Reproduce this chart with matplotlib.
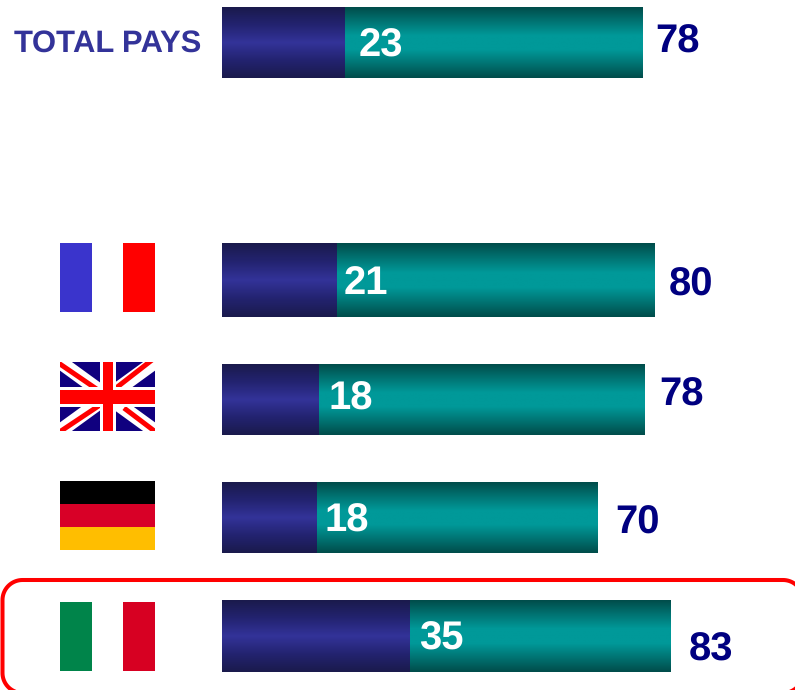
import numpy as np
import matplotlib
matplotlib.use('Agg')
import matplotlib.pyplot as plt
from matplotlib.colors import LinearSegmentedColormap
from matplotlib.patches import Rectangle

plt.rcParams['font.family'] = ['Liberation Sans', 'DejaVu Sans']
plt.rcParams['text.hinting'] = 'no_hinting'
plt.rcParams['text.hinting_factor'] = 1

# labels printed on the chart
low_labels = ['23', '21', '18', '18', '35']
total_labels = ['78', '80', '78', '70', '83']

# bar lengths
low_values = [22.75, 21.25, 17.9, 17.55, 34.8]
total_values = [77.9, 80.1, 78.2, 69.5, 83.1]

# vertical bar extent, pixels from the top
bar_tops = [7, 243, 364, 482, 600]
bar_bottoms = [78, 317, 435, 553, 672]

# label positions, pixels (centres)
low_label_x = [381, 366, 351, 347, 441]
low_label_y = [46, 284, 399, 521, 639]
total_label_x = [678, 691, 682, 638, 711]
total_label_y = [42, 285, 395, 523, 650]

X0 = 222
SCALE = 5.4

NAVY = LinearSegmentedColormap.from_list('navy', ['#1A1A4C', '#232370', '#333399', '#232370', '#1A1A4C'])
TEAL = LinearSegmentedColormap.from_list('teal', ['#004C4A', '#007372', '#009999', '#009999', '#007372', '#004C4A'])
gradient = np.linspace(0, 1, 256).reshape(-1, 1)

fig = plt.figure(figsize=(7.95, 6.9), dpi=100)

# bars, x axis in value units
ax = fig.add_axes([0, 0, 1, 1])
ax.axis('off')
for low, total, top, bottom in zip(low_values, total_values, bar_tops, bar_bottoms):
    ax.imshow(gradient, cmap=TEAL, aspect='auto', extent=(low, total, bottom, top), zorder=1)
    ax.imshow(gradient, cmap=NAVY, aspect='auto', extent=(0, low, bottom, top), zorder=2)
ax.set_xlim(-X0 / SCALE, (795 - X0) / SCALE)
ax.set_ylim(690, 0)

# everything else, in pixels
over = fig.add_axes([0, 0, 1, 1])
over.axis('off')
over.patch.set_alpha(0)
over.set_xlim(0, 795)
over.set_ylim(690, 0)

over.text(108, 44, 'TOTAL PAYS', color='#333399', fontsize=22.3, fontweight='bold', ha='center', va='center')

for s, x, y in zip(low_labels, low_label_x, low_label_y):
    over.text(x, y, s, color='white', fontsize=28.5, fontweight='bold', ha='center', va='center')
for s, x, y in zip(total_labels, total_label_x, total_label_y):
    over.text(x, y, s, color='#000080', fontsize=28.5, fontweight='bold', ha='center', va='center')


def vertical_flag(top, left_col, mid_col, right_col):
    over.add_patch(Rectangle((60, top), 32, 69, fc=left_col, ec='none'))
    over.add_patch(Rectangle((92, top), 31, 69, fc=mid_col, ec='none'))
    over.add_patch(Rectangle((123, top), 32, 69, fc=right_col, ec='none'))


# France, Italy
vertical_flag(243, '#3A34CC', 'white', '#FF0000')
vertical_flag(602, '#00844A', 'white', '#D70022')

# Germany
for i, c in enumerate(['#000000', '#D80027', '#FFBE00']):
    over.add_patch(Rectangle((60, 481 + i * 23), 95, 23, fc=c, ec='none'))

# UK
clip = Rectangle((60, 362), 95, 69, fc='#10007F', ec='none')
over.add_patch(clip)
for xs, ys, w, c in [
    ((60, 155), (362, 431), 14, 'white'),
    ((60, 155), (431, 362), 14, 'white'),
    ((57, 98), (362, 390), 5, '#FF0000'),
    ((152, 116), (360, 388), 5, '#FF0000'),
    ((58, 100), (433, 405), 5, '#FF0000'),
    ((157, 124), (433, 408), 5, '#FF0000'),
    ((107.5, 107.5), (362, 431), 16, 'white'),
    ((60, 155), (397, 397), 20, 'white'),
    ((107.5, 107.5), (362, 431), 10, '#FF0000'),
    ((60, 155), (397, 397), 14, '#FF0000'),
]:
    line, = over.plot(xs, ys, color=c, lw=w * 0.72, solid_capstyle='butt')
    line.set_clip_path(clip)

# red frame around Italy, runs off the right and bottom of the picture
r = 20
left, right, top, bottom = 2.5, 803, 580, 693
t = np.linspace(0, np.pi / 2, 20)
frame_x = np.concatenate([left + r - r * np.sin(t), left + r - r * np.cos(t), right - r + r * np.sin(t), right - r + r * np.cos(t)])
frame_y = np.concatenate([bottom - r + r * np.cos(t), top + r - r * np.sin(t), top + r - r * np.cos(t), bottom - r + r * np.sin(t)])
over.plot(np.append(frame_x, frame_x[0]), np.append(frame_y, frame_y[0]), color='#FF0000', lw=2.9)

fig.savefig('out.png', dpi=100)
